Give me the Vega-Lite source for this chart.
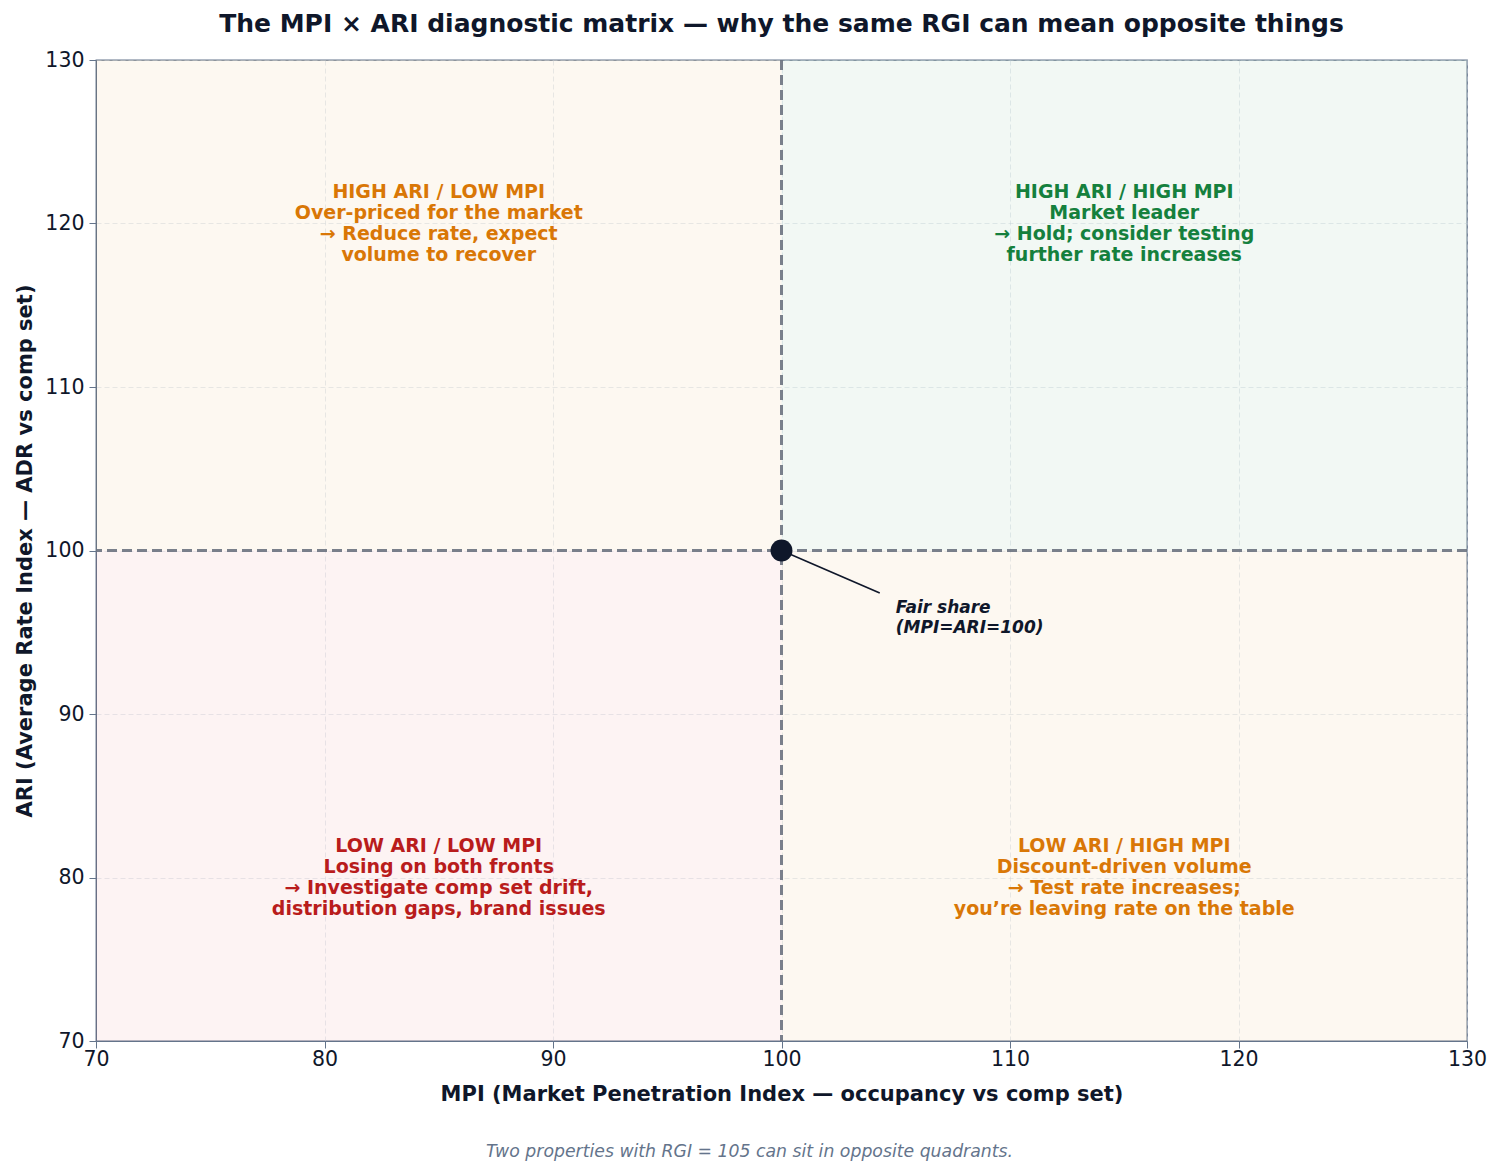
{
  "$schema": "https://vega.github.io/schema/vega-lite/v6.json",
  "autosize": {"type": "none"},
  "width": 1371,
  "height": 981,
  "padding": {"left": 96, "top": 60, "right": 33, "bottom": 134},
  "background": "white",
  "config": {
    "font": "DejaVu Sans",
    "view": {"stroke": "#64748b", "strokeWidth": 1.3},
    "axis": {
      "labelFont": "DejaVu Sans",
      "titleFont": "DejaVu Sans",
      "labelFontSize": 20.5,
      "titleFontSize": 21,
      "labelColor": "#0f172a",
      "titleColor": "#0f172a",
      "titleFontWeight": "bold",
      "domainColor": "#64748b",
      "tickColor": "#64748b",
      "tickSize": 7,
      "labelFlush": false,
      "labelOverlap": false,
      "gridColor": "#cbd5e1",
      "gridOpacity": 0.45,
      "gridDash": [5, 3],
      "gridWidth": 1
    }
  },
  "title": {
    "text": "The MPI × ARI diagnostic matrix — why the same RGI can mean opposite things",
    "font": "DejaVu Sans",
    "fontSize": 25,
    "fontWeight": "bold",
    "color": "#0f172a",
    "anchor": "middle",
    "offset": 13
  },
  "datasets": {
    "quadrants": [
      {"q": "tl", "x1": 70, "x2": 100, "y1": 100, "y2": 130},
      {"q": "tr", "x1": 100, "x2": 130, "y1": 100, "y2": 130},
      {"q": "bl", "x1": 70, "x2": 100, "y1": 70, "y2": 100},
      {"q": "br", "x1": 100, "x2": 130, "y1": 70, "y2": 100}
    ],
    "labels": [
      {"q": "tl", "x": 85, "y": 120, "label": ["HIGH ARI / LOW MPI", "Over-priced for the market", "→ Reduce rate, expect", "volume to recover"]},
      {"q": "tr", "x": 115, "y": 120, "label": ["HIGH ARI / HIGH MPI", "Market leader", "→ Hold; consider testing", "further rate increases"]},
      {"q": "bl", "x": 85, "y": 80, "label": ["LOW ARI / LOW MPI", "Losing on both fronts", "→ Investigate comp set drift,", "distribution gaps, brand issues"]},
      {"q": "br", "x": 115, "y": 80, "label": ["LOW ARI / HIGH MPI", "Discount-driven volume", "→ Test rate increases;", "you’re leaving rate on the table"]}
    ],
    "fair": [{"mpi": 100, "ari": 100, "tx": 104.3, "ty": 97.4, "lx": 105, "ly": 96.2, "label": ["Fair share", "(MPI=ARI=100)"]}],
    "note": [{"x": 98.6, "y": 63.2, "label": "Two properties with RGI = 105 can sit in opposite quadrants."}]
  },
  "layer": [
    {
      "data": {"name": "quadrants"},
      "mark": {"type": "rect", "opacity": 0.055},
      "encoding": {
        "x": {
          "field": "x1", "type": "quantitative",
          "scale": {"domain": [70, 130], "nice": false, "zero": false},
          "axis": {"values": [70, 80, 90, 100, 110, 120, 130], "title": "MPI (Market Penetration Index — occupancy vs comp set)", "labelPadding": 1, "titlePadding": 14, "grid": true}
        },
        "x2": {"field": "x2"},
        "y": {
          "field": "y1", "type": "quantitative",
          "scale": {"domain": [70, 130], "nice": false, "zero": false},
          "axis": {"values": [70, 80, 90, 100, 110, 120, 130], "title": "ARI (Average Rate Index — ADR vs comp set)", "labelPadding": 5, "titlePadding": 9, "grid": true}
        },
        "y2": {"field": "y2"},
        "color": {
          "field": "q", "type": "nominal", "legend": null,
          "scale": {"domain": ["tl", "tr", "bl", "br"], "range": ["#d97706", "#15803d", "#dc2626", "#d97706"]}
        }
      }
    },
    {
      "data": {"name": "fair"},
      "mark": {"type": "rule", "color": "#6b7280", "opacity": 0.9, "strokeWidth": 3, "strokeDash": [10, 5]},
      "encoding": {"x": {"field": "mpi", "type": "quantitative"}}
    },
    {
      "data": {"name": "fair"},
      "mark": {"type": "rule", "color": "#6b7280", "opacity": 0.9, "strokeWidth": 3, "strokeDash": [10, 5]},
      "encoding": {"y": {"field": "ari", "type": "quantitative"}}
    },
    {
      "data": {"name": "fair"},
      "mark": {"type": "rule", "color": "#0f172a", "strokeWidth": 1.6},
      "encoding": {
        "x": {"field": "mpi", "type": "quantitative"},
        "y": {"field": "ari", "type": "quantitative"},
        "x2": {"field": "tx"},
        "y2": {"field": "ty"}
      }
    },
    {
      "data": {"name": "fair"},
      "mark": {"type": "circle", "color": "#0f172a", "opacity": 1, "size": 480},
      "encoding": {
        "x": {"field": "mpi", "type": "quantitative"},
        "y": {"field": "ari", "type": "quantitative"}
      }
    },
    {
      "data": {"name": "fair"},
      "mark": {"type": "text", "align": "left", "baseline": "alphabetic", "font": "DejaVu Sans", "fontSize": 17, "fontWeight": "bold", "fontStyle": "italic", "color": "#0f172a", "lineHeight": 20},
      "encoding": {
        "x": {"field": "lx", "type": "quantitative"},
        "y": {"field": "ly", "type": "quantitative"},
        "text": {"field": "label"}
      }
    },
    {
      "data": {"name": "labels"},
      "mark": {"type": "text", "align": "center", "baseline": "middle", "font": "DejaVu Sans", "fontSize": 19, "fontWeight": "bold", "lineHeight": 21, "dy": -31.5},
      "encoding": {
        "x": {"field": "x", "type": "quantitative"},
        "y": {"field": "y", "type": "quantitative"},
        "text": {"field": "label"},
        "color": {
          "field": "q", "type": "nominal", "legend": null,
          "scale": {"domain": ["tl", "tr", "bl", "br"], "range": ["#d97706", "#15803d", "#b91c1c", "#d97706"]}
        }
      }
    },
    {
      "data": {"name": "note"},
      "mark": {"type": "text", "align": "center", "baseline": "middle", "font": "DejaVu Sans", "fontSize": 17.3, "fontStyle": "italic", "color": "#64748b"},
      "encoding": {
        "x": {"field": "x", "type": "quantitative"},
        "y": {"field": "y", "type": "quantitative"},
        "text": {"field": "label"}
      }
    }
  ],
  "resolve": {"scale": {"color": "independent"}}
}
